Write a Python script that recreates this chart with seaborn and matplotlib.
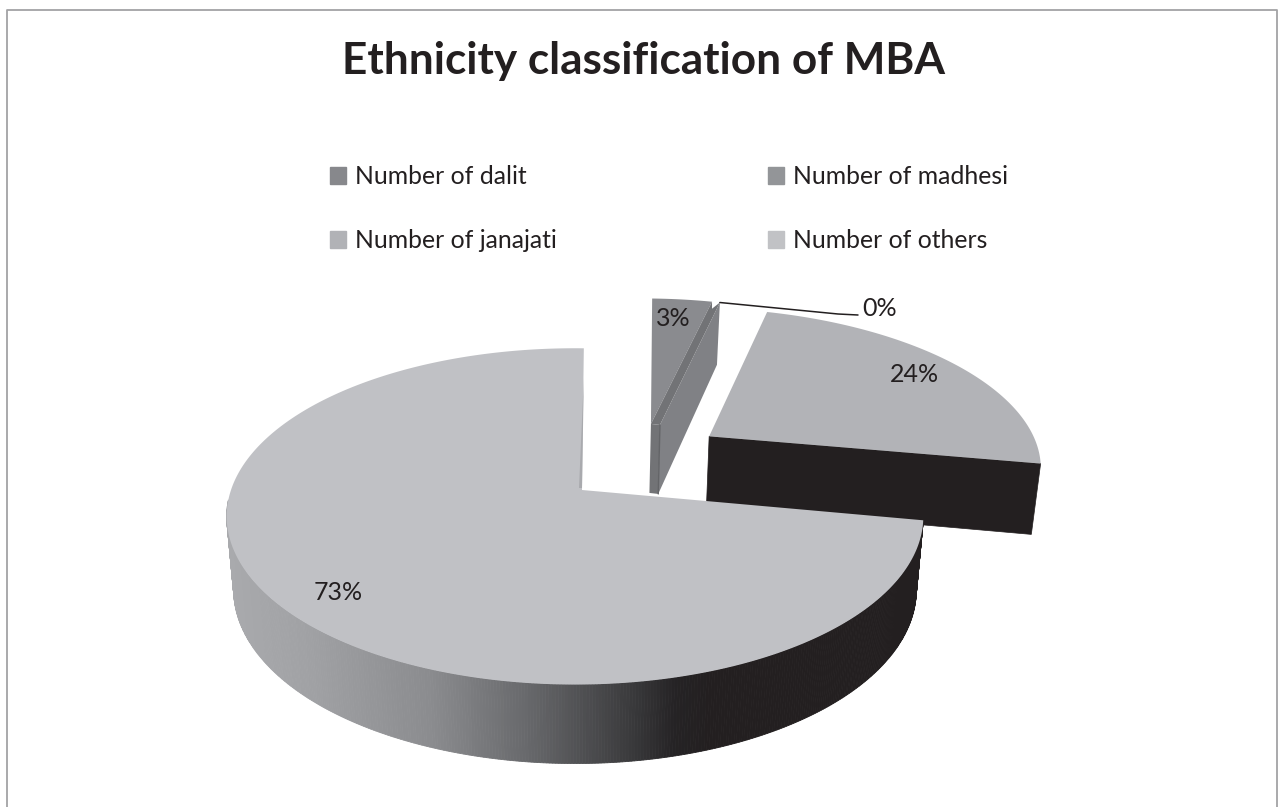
import numpy as np
import matplotlib
matplotlib.use('Agg')
import matplotlib.pyplot as plt
from matplotlib.patches import Patch, Polygon
import seaborn as sns

# values (rounded there to 3, 0, 24, 73)
categories = ['Number of dalit', 'Number of madhesi', 'Number of janajati', 'Number of others']
values = [3.4, 0.45, 23.55, 72.6]

top_colors = ['#8a8b8f', '#727376', '#b2b3b7', '#c0c1c5']
legend_colors = ['#87888c', '#939598', '#b1b2b6', '#c1c2c5']
# exploded offset of every slice, in units of the pie radius
explode_u = [0.245, 0.245, 0.405, 0.0]
explode_v = [0.43, 0.43, 0.345, 0.0]
apex_dx = [-3, -3, 2, 7]

start_angle = 88.3
cx, cy, a, b, k = 575, 490, 344, 164, 0.157

sns.set_theme(style='white')
plt.rcParams['font.family'] = ['Lato', 'DejaVu Sans']
text_color = '#231f20'


def project(u, v):
    w = 1 + k * v
    return cx + a * u / w, cy - b * v / w


def lower(x, y, v):
    # bottom of the pie is a bit smaller and further away
    return cx + (x - cx) * 0.98, y + 72 - 7 * v


def rim(i, t1, t2, n=200):
    t = np.radians(np.linspace(t1, t2, n))
    u = np.cos(t) + explode_u[i]
    v = np.sin(t) + explode_v[i]
    x, y = project(u, v)
    return x, y, v


def apex(i):
    x, y = project(explode_u[i], explode_v[i])
    return x + apex_dx[i], y


fig = plt.figure(figsize=(12.78, 8.07), dpi=100)
ax = fig.add_axes([0, 0, 1, 1])
ax.set_xlim(0, 1278)
ax.set_ylim(807, 0)
ax.axis('off')

ax.plot([6.5, 6.5, 1277, 1277], [807, 9.5, 9.5, 807], color='#a3a3a5', lw=1.3, zorder=1)

# angles of the slices, clockwise from the start
edges = start_angle - np.cumsum([0] + values) * 3.6

# janajati: cut face and top
i = 2
x, y, v = rim(i, edges[i], edges[i + 1])
ax_, ay_ = apex(i)
v0 = explode_v[i]
bx0, by0 = lower(ax_, ay_, v0)
bx1, by1 = lower(x[-1], y[-1], v[-1])
ax.add_patch(Polygon([(ax_, ay_), (x[-1], y[-1]), (bx1, by1), (bx0, by0)], fc='#231f20', ec='#231f20', lw=0.5, zorder=2))
ax.add_patch(Polygon(list(zip(x, y)) + [(ax_, ay_)], fc=top_colors[i], ec='none', zorder=3))

# dalit and madhesi
i = 0
x, y, v = rim(i, edges[0], edges[1])
dx0, dy0 = apex(0)
ax.add_patch(Polygon(list(zip(x, y)) + [(dx0, dy0)], fc=top_colors[0], ec='none', zorder=3))
mx, my, mv = rim(1, edges[1], edges[2], n=20)
strip = 9
lbx0, lby0 = lower(dx0, dy0, explode_v[1])
rbx0, rby0 = lower(dx0 + strip, dy0 + 1, explode_v[1])
rtx, rty = lower(mx[-1], my[-1], mv[-1])
ax.add_patch(Polygon([(mx[-1], my[-1]), (rtx, rty), (rbx0, rby0), (dx0 + strip, dy0 + 1)], fc='#808185', ec='none', zorder=4))
ax.add_patch(Polygon([(x[-1], y[-1]), (x[-1], y[-1] + 7), (mx[-1], my[-1]), (dx0 + strip, dy0 + 1), (dx0, dy0)],
                     fc=top_colors[1], ec='none', zorder=4))
ax.add_patch(Polygon([(dx0, dy0), (dx0 + strip, dy0 + 1), (rbx0, rby0), (lbx0, lby0)], fc=top_colors[1], ec='none', zorder=4))
ax.plot([dx0 + strip, rbx0], [dy0 + 1, rby0], color='#636467', lw=1, zorder=5)

# others: shaded outer wall then the top
i = 3
x, y, v = rim(i, edges[i], edges[i + 1], n=600)
shade_stops = ['#a9aaad', '#a0a1a4', '#8a8b8e', '#66676a', '#3a3a3c', '#252325', '#231f20']
stop_x = [226, 310, 433, 533, 633, 677, 712]
shades = sns.blend_palette(shade_stops, 7)
bx, by = lower(x, y, v)
for j in range(len(x) - 1):
    if y[j] < 500:
        continue
    col = [np.interp(x[j], stop_x, [c[n] for c in shades]) for n in range(3)]
    ax.add_patch(Polygon([(x[j], y[j]), (x[j + 1], y[j + 1]), (bx[j + 1], by[j + 1]), (bx[j], by[j])],
                         fc=col, ec=col, lw=0.6, zorder=6))
ax_, ay_ = apex(i)
ax.add_patch(Polygon(list(zip(x, y)) + [(ax_, ay_)], fc=top_colors[i], ec='none', zorder=7))
# thin sliver of the inner wall by the cut
ax.add_patch(Polygon([(x[-1], y[-1] + 30), (ax_, ay_ - 2), (ax_ - 3, ay_ - 2)], fc='#a9aaae', ec='none', zorder=8))

# labels
labels = ['%.0f%%' % val for val in values]
label_x = [673, 880, 914, 338]
label_y = [318, 308, 374, 593]
for i in range(4):
    ax.text(label_x[i], label_y[i], labels[i], ha='center', va='center', fontsize=18, color=text_color, zorder=9)
ax.plot([mx[-1], 838, 858], [my[-1], 314, 315], color=text_color, lw=1.1, zorder=8)

ax.text(643, 61, 'Ethnicity classification of MBA', ha='center', va='center', fontsize=31.8,
        fontweight='bold', color=text_color)

handles = [Patch(color=legend_colors[j], label=categories[j]) for j in [0, 2, 1, 3]]
leg = ax.legend(handles=handles, ncol=2, frameon=False, fontsize=17.8, loc='upper left',
                bbox_to_anchor=(330 / 1278, 1 - 165 / 807), handlelength=0.65, handleheight=0.65,
                handletextpad=0.35, labelspacing=1.66, columnspacing=8.56, borderpad=0, labelcolor=text_color,
                borderaxespad=0)

fig.savefig('out.png', dpi=100)
